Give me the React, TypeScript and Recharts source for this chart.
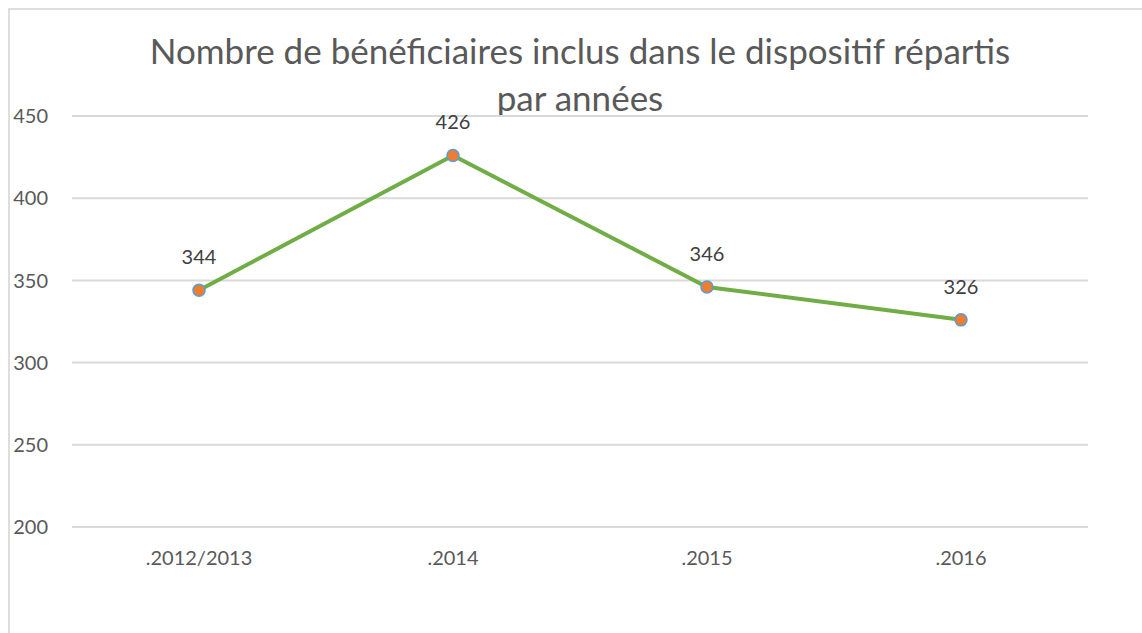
import { LineChart, Line, XAxis, YAxis, CartesianGrid, LabelList } from 'recharts'

const years = ['.2012/2013', '.2014', '.2015', '.2016']
const beneficiaires = [344, 426, 346, 326]
const yTicks = [200, 250, 300, 350, 400, 450]

const data = years.map((year, i) => ({ year, value: beneficiaires[i] }))

const FONT = 'Lato, "Open Sans", sans-serif'
const TEXT = '#595959'

export default function App() {
  return (
    <div style={{ position: 'fixed', left: 0, top: 0, width: 1142, height: 633, overflow: 'hidden', background: '#fff' }}>
      <div
        style={{
          position: 'absolute',
          left: 8,
          top: 8,
          width: 1132,
          height: 623,
          borderLeft: '2px solid #dedede',
          borderTop: '2px solid #dedede',
          fontFamily: FONT,
        }}
      >
        <div
          style={{
            position: 'absolute',
            left: 0,
            top: 17,
            width: 1140,
            textAlign: 'center',
            fontSize: 35,
            lineHeight: '47px',
            color: TEXT,
          }}
        >
          Nombre de bénéficiaires inclus dans le dispositif répartis
          <br />
          par années
        </div>
        <LineChart
          width={1132}
          height={623}
          data={data}
          margin={{ top: 106, right: 54, left: 0, bottom: 46 }}
        >
          <CartesianGrid vertical={false} stroke="#d9d9d9" strokeWidth={2} />
          <XAxis
            dataKey="year"
            axisLine={false}
            tickLine={false}
            tickSize={0}
            tickMargin={24}
            height={60}
            padding={{ left: 127, right: 127 }}
            tick={{ fill: TEXT, fontSize: 20, fontFamily: FONT }}
          />
          <YAxis
            domain={[200, 450]}
            ticks={yTicks}
            axisLine={false}
            tickLine={false}
            tickSize={0}
            tickMargin={24}
            width={62}
            tick={{ fill: TEXT, fontSize: 20, fontFamily: FONT }}
          />
          <Line
            type="linear"
            dataKey="value"
            stroke="#70ad47"
            strokeWidth={4}
            dot={{ r: 6, fill: '#ed7d31', stroke: '#5b9bd5', strokeWidth: 1.5 }}
            isAnimationActive={false}
          >
            <LabelList
              dataKey="value"
              position="top"
              offset={26}
              style={{ fill: '#404040', fontSize: 20, fontFamily: FONT }}
            />
          </Line>
        </LineChart>
      </div>
    </div>
  )
}
